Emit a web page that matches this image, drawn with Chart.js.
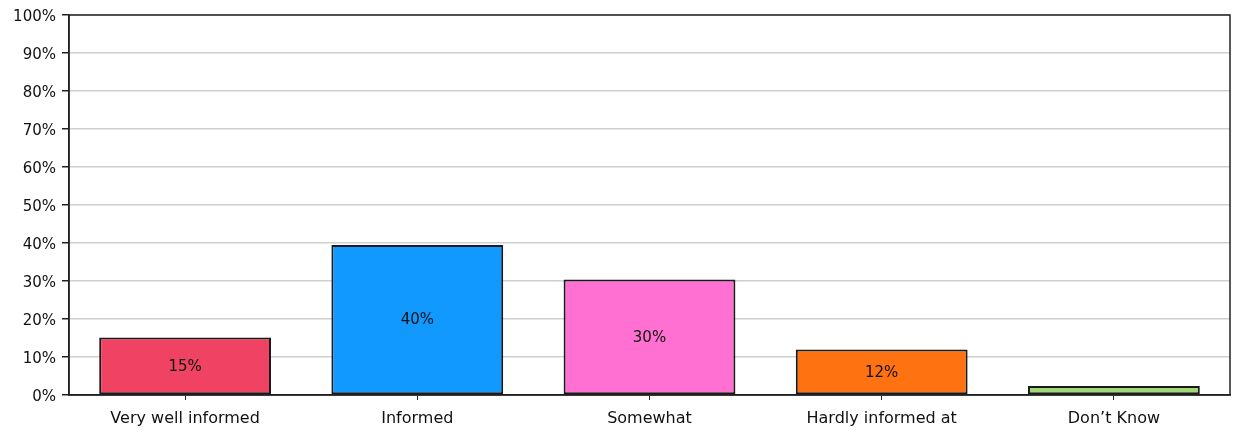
<!DOCTYPE html>
<html lang="en">

<head>
  <meta charset="UTF-8">
  <title>How well informed</title>
  <script src="https://cdn.jsdelivr.net/npm/chart.js"></script>
  <style>
    html, body { margin: 0; padding: 0; background: #fff; }
    #wrap { width: 1235px; height: 435px; }
  </style>
</head>

<body>
  <div id="wrap"><canvas id="infoChart" width="1235" height="435"></canvas></div>
  <script>
    // data
    const categories = ['Very well informed', 'Informed', 'Somewhat', 'Hardly informed at', 'Don\u2019t Know'];
    const shares = [15.1, 39.5, 30.4, 12.0, 2.4];
    const barColors = ['#F04262', '#1199FF', '#FF70D2', '#FF7212', '#A2D873'];
    const yTicks = [0, 10, 20, 30, 40, 50, 60, 70, 80, 90, 100];

    const FONT = 'DejaVu Sans';
    const INK = '#111';

    // percentage written in the middle of each bar (skipped when the bar is too short)
    const barLabels = {
      id: 'barLabels',
      afterDatasetsDraw(chart) {
        const ctx = chart.ctx;
        const meta = chart.getDatasetMeta(0);
        ctx.save();
        ctx.font = '15px "' + FONT + '"';
        ctx.fillStyle = INK;
        ctx.textAlign = 'center';
        ctx.textBaseline = 'middle';
        meta.data.forEach((bar, i) => {
          const h = bar.base - bar.y;
          if (h < 20) return;
          ctx.fillText(Math.round(shares[i]) + '%', bar.x, bar.y + h / 2 + 1);
        });
        ctx.restore();
      }
    };

    // box round the plot area
    const frame = {
      id: 'frame',
      afterDraw(chart) {
        const a = chart.chartArea;
        const ctx = chart.ctx;
        ctx.save();
        ctx.strokeStyle = '#222';
        ctx.lineWidth = 1.5;
        ctx.strokeRect(a.left, a.top, a.right - a.left, a.bottom - a.top);
        ctx.restore();
      }
    };

    const ctx = document.getElementById('infoChart').getContext('2d');
    new Chart(ctx, {
      type: 'bar',
      data: {
        labels: categories,
        datasets: [{
          data: shares,
          backgroundColor: barColors,
          borderColor: '#1a1a1a',
          borderWidth: 2,
          borderSkipped: false,
          categoryPercentage: 1,
          barPercentage: 0.74
        }]
      },
      options: {
        responsive: false,
        animation: false,
        devicePixelRatio: 1,
        layout: { padding: { left: 0, right: 5, top: 15, bottom: 0 } },
        plugins: {
          legend: { display: false },
          tooltip: { enabled: false }
        },
        scales: {
          x: {
            grid: {
              display: true,
              drawOnChartArea: false,
              offset: false,
              tickLength: 5,
              tickColor: '#222'
            },
            border: { display: true, color: '#222', width: 1.5 },
            ticks: {
              color: INK,
              padding: 9,
              maxRotation: 0,
              font: { family: FONT, size: 16 }
            },
            afterFit(scale) { scale.height = 40; }
          },
          y: {
            min: 0,
            max: 100,
            afterBuildTicks(scale) { scale.ticks = yTicks.map(v => ({ value: v })); },
            grid: {
              color: '#CFCFCF',
              lineWidth: 1.5,
              tickLength: 7,
              tickColor: '#222'
            },
            border: { display: true, color: '#222', width: 1.5 },
            ticks: {
              color: INK,
              padding: 6,
              labelOffset: 2,
              font: { family: FONT, size: 15 },
              callback: v => v + '%'
            },
            afterFit(scale) { scale.width = 69; }
          }
        }
      },
      plugins: [barLabels, frame]
    });
  </script>
</body>

</html>
